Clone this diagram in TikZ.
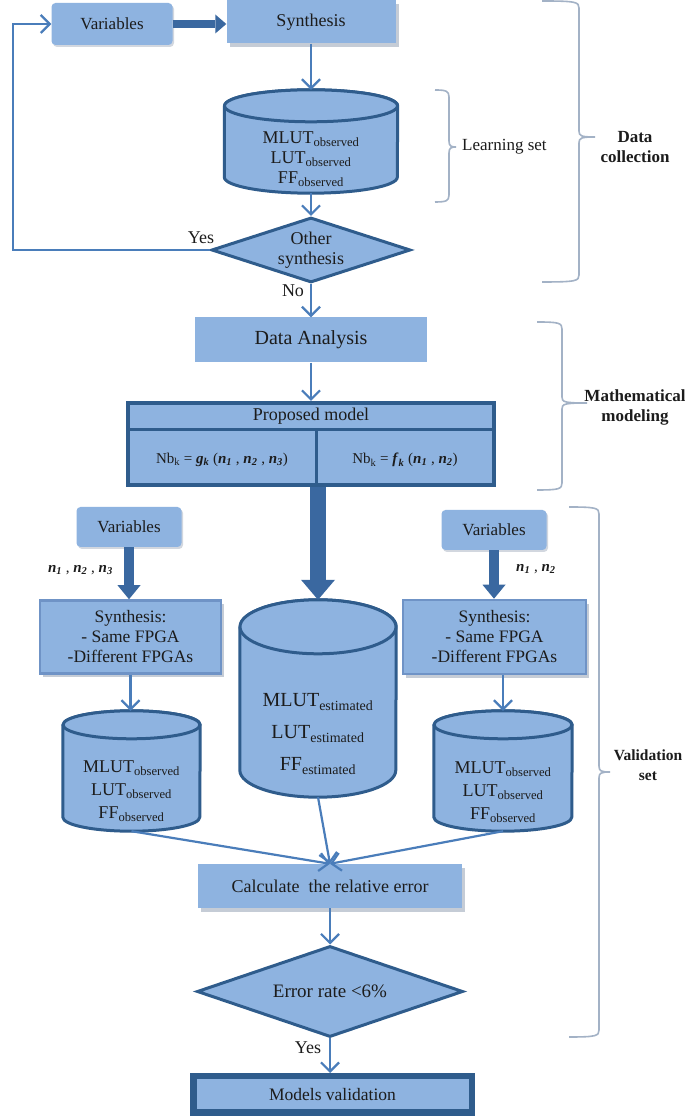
\documentclass[tikz,border=0pt]{standalone}
\usepackage{fontspec}
\setmainfont{Liberation Serif}
\usetikzlibrary{arrows.meta,shapes.geometric,shadows,calc}
\definecolor{boxfill}{HTML}{8EB3E0}
\definecolor{darkb}{HTML}{2F5C8C}
\definecolor{arrowc}{HTML}{4A7DBA}
\definecolor{thickc}{HTML}{3A68A0}
\definecolor{brkc}{HTML}{A3B2C6}
\definecolor{txtc}{HTML}{1C1C1C}
\definecolor{shadowc}{HTML}{7F8FA6}
\definecolor{bevelc}{HTML}{6F93C6}
\newcommand{\myfs}[2]{\fontsize{#1pt}{#2pt}\selectfont}
\newcommand{\nvar}[1]{\textbf{\textit{n}}\textsubscript{\textbf{\textit{#1}}}}
\newcommand{\drawcyl}[3]{%
  \path[cylpaint] ([yshift=-#3pt]#1.north west) -- ([yshift=#3pt]#1.south west)
     arc[start angle=180, end angle=360, x radius=#2pt, y radius=#3pt]
     -- ([yshift=-#3pt]#1.north east)
     arc[start angle=0, end angle=180, x radius=#2pt, y radius=#3pt] -- cycle;
  \draw[cylpaint] ([yshift=-#3pt]#1.north) ellipse [x radius=#2pt, y radius=#3pt];
}
\newcommand{\mybrace}[6]{%
  \draw[brk] (#1,#4) .. controls (#2-3,#4) and (#2,#4-1) .. (#2,#4-7)
    -- (#2,#6+6) .. controls (#2,#6+1) and (#2+2,#6) .. (#3,#6)
    .. controls (#2+2,#6) and (#2,#6-1) .. (#2,#6-6)
    -- (#2,#5+7) .. controls (#2,#5+1) and (#2-3,#5) .. (#1,#5);
}
\begin{document}
\begin{tikzpicture}[x=1pt,y=1pt,
  every node/.style={text=txtc, inner sep=0pt, align=center},
  varbox/.style={rectangle, rounded corners=4pt, fill=boxfill,
    drop shadow={shadow xshift=1.5pt, shadow yshift=-2pt, fill=shadowc, opacity=0.35}},
  plainbox/.style={rectangle, fill=boxfill},
  shbox/.style={rectangle, fill=boxfill,
    drop shadow={shadow xshift=3pt, shadow yshift=-4pt, fill=shadowc, opacity=0.45}},
  bevbox/.style={shbox, draw=bevelc, line width=2.5pt},
  decision/.style={diamond, aspect=3, fill=boxfill, draw=darkb, line width=3pt},
  cylbody/.style={rectangle},
  cylpaint/.style={fill=boxfill, draw=darkb, line width=3pt, line join=round},
  pmbox/.style={rectangle, fill=boxfill, draw=darkb, line width=4pt},
  mvbox/.style={rectangle, fill=boxfill, draw=darkb, line width=5pt},
  thinarr/.style={draw=arrowc, line width=2.2pt, -{Straight Barb[length=9pt, width=18pt]}},
  thickA/.style={draw=thickc, line width=8pt, -{Triangle[length=11pt, width=19pt, line width=0pt]}},
  thickB/.style={draw=thickc, line width=10pt, -{Triangle[length=14pt, width=23pt, line width=0pt]}},
  thickC/.style={draw=thickc, line width=16pt, -{Triangle[length=20pt, width=34pt, line width=0pt]}},
  brk/.style={draw=brkc, line width=1.6pt},
  lbl/.style={font=\myfs{18}{20}},
  bold/.style={font=\myfs{17}{20}\bfseries}
]
\useasboundingbox (0,0) rectangle (685,1117);
\clip (0,0) rectangle (685,1117);
\fill[white] (0,0) rectangle (685,1117);

% ---------- data collection ----------
\node[varbox, minimum width=121pt, minimum height=42pt, font=\myfs{17}{19}] (var1) at (112,1093) {Variables};
\node[shbox, minimum width=169pt, minimum height=43pt, font=\myfs{18}{20}] (syn1) at (311,1095) {Synthesis};
\node[cylbody, minimum width=173pt, minimum height=103pt] (cyl1) at (311,975.5) {};
\drawcyl{cyl1}{86.5}{16}
\node[font=\myfs{18}{20}] (cyl1t) at (311,958) {MLUT\textsubscript{observed}\\LUT\textsubscript{observed}\\FF\textsubscript{observed}};
\node[decision, minimum width=199pt, minimum height=65pt, font=\myfs{18}{20}] (dia1) at (311,867) {Other\\synthesis};
\node[lbl] (yes1) at (201,879) {Yes};
\node[lbl] (no1) at (293,826) {No};

% ---------- mathematical modeling ----------
\node[plainbox, minimum width=232pt, minimum height=45pt, font=\myfs{20}{24}] (da) at (311,777) {Data Analysis};
\node[pmbox, minimum width=366pt, minimum height=82pt] (pm) at (311,673) {};
\draw[darkb, line width=3pt] ([yshift=-29pt]pm.north west) -- ([yshift=-29pt]pm.north east);
\draw[darkb, line width=3pt] ([xshift=5pt,yshift=-29pt]pm.north) -- ([xshift=5pt]pm.south);
\node[font=\myfs{18}{20}] (pmh) at (311,701) {Proposed model};
\node[font=\myfs{15}{18}] (f1) at (222,657) {Nb\textsubscript{k} = \textbf{\textit{g}}\textsubscript{\textbf{\textit{k}}} (\nvar{1} , \nvar{2} , \nvar{3})};
\node[font=\myfs{15}{18}] (f2) at (405,657) {Nb\textsubscript{k} = \textbf{\textit{f}}\textsubscript{\textbf{\textit{k}}} (\nvar{1} , \nvar{2})};

% ---------- validation set ----------
\node[varbox, minimum width=105pt, minimum height=40pt, font=\myfs{17}{19}] (var2) at (129,590) {Variables};
\node[bevbox, minimum width=181pt, minimum height=73pt, font=\myfs{17.5}{20}] (syn2) at (130.5,480) {Synthesis:\\- Same FPGA\\-Different FPGAs};
\node[font=\myfs{15}{17}, anchor=east] (nl) at (113,547) {\nvar{1} , \nvar{2} , \nvar{3}};
\node[cylbody, minimum width=137pt, minimum height=120pt] (cyl2) at (131.5,346) {};
\drawcyl{cyl2}{68.5}{14}
\node[font=\myfs{18}{23}] (cyl2t) at (131.5,326) {MLUT\textsubscript{observed}\\LUT\textsubscript{observed}\\FF\textsubscript{observed}};

\node[cylbody, minimum width=156pt, minimum height=197pt] (bigcyl) at (318,418.5) {};
\drawcyl{bigcyl}{78}{27}
\node[font=\myfs{20}{32}] (bigt) at (318,383) {MLUT\textsubscript{estimated}\\LUT\textsubscript{estimated}\\FF\textsubscript{estimated}};

\node[varbox, minimum width=105pt, minimum height=40pt, font=\myfs{17}{19}] (var3) at (494,587) {Variables};
\node[bevbox, minimum width=183pt, minimum height=74pt, font=\myfs{17.5}{20}] (syn3) at (494.5,480) {Synthesis:\\- Same FPGA\\-Different FPGAs};
\node[font=\myfs{15}{17}, anchor=west] (nr) at (516,548) {\nvar{1} , \nvar{2}};
\node[cylbody, minimum width=138pt, minimum height=120pt] (cyl3) at (503,346) {};
\drawcyl{cyl3}{69}{14}
\node[font=\myfs{18}{23}] (cyl3t) at (503,325) {MLUT\textsubscript{observed}\\LUT\textsubscript{observed}\\FF\textsubscript{observed}};

\node[shbox, minimum width=264pt, minimum height=44pt, font=\myfs{18}{21}] (calc) at (330,231) {Calculate\hspace{0.25em} the relative error};
\node[decision, minimum width=266pt, minimum height=91pt, font=\myfs{19}{21}] (dia2) at (330,125.5) {Error rate <6\%};
\node[lbl] (yes2) at (308,69) {Yes};
\node[mvbox, minimum width=280pt, minimum height=38pt, font=\myfs{17.5}{20}] (mv) at (332.5,22.5) {Models validation};
\draw[darkb, line width=2pt] ([shift={(5.5pt,-5.5pt)}]mv.north west) rectangle ([shift={(-5.5pt,5.5pt)}]mv.south east);

% ---------- connectors ----------
\draw[thickA] (var1.east) -- (var1.east -| syn1.west);
\draw[thinarr] (syn1.south) -- (cyl1.north);
\draw[thinarr] (cyl1.south) -- (dia1.north);
\draw[thinarr] (dia1.south) -- (da.north);
\coordinate (lp) at (13,0);
\draw[thinarr, line join=miter] (dia1.west) -- (dia1.west -| lp) -- (lp |- var1.west) -- (var1.west);
\draw[thinarr] (da.south) -- (pm.north);
\draw[thickC] ([xshift=7pt]pm.south) -- (bigcyl.north);
\draw[thickB] (var2.south) -- (var2.south |- syn2.north);
\draw[thinarr] (syn2.south) -- (syn2.south |- cyl2.north);
\draw[thickB] (var3.south) -- (var3.south |- syn3.north);
\draw[thinarr] (syn3.south -| cyl3.north) -- (cyl3.north);
\draw[thinarr] (cyl2.south) -- (calc.north);
\draw[thinarr] (bigcyl.south) -- (calc.north);
\draw[thinarr] (cyl3.south) -- (calc.north);
\draw[thinarr] (calc.south) -- (dia2.north);
\draw[thinarr] (dia2.south) -- (dia2.south |- mv.north);

% ---------- brackets ----------
\mybrace{435}{449}{456}{1027}{915}{970}
\node[font=\myfs{17}{20}, anchor=west] (ls) at (462,970) {Learning set};
\mybrace{542}{579}{595}{1116}{835}{980}
\node[bold] (dc) at (635,970) {Data\\collection};
\mybrace{537}{562}{587}{795}{627}{714}
\node[bold] (mm) at (635,710) {Mathematical\\modeling};
\mybrace{569}{599}{610}{610}{80}{345}
\node[font=\myfs{15.5}{20}\bfseries] (vs) at (648,352) {Validation\\set};
\end{tikzpicture}
\end{document}
